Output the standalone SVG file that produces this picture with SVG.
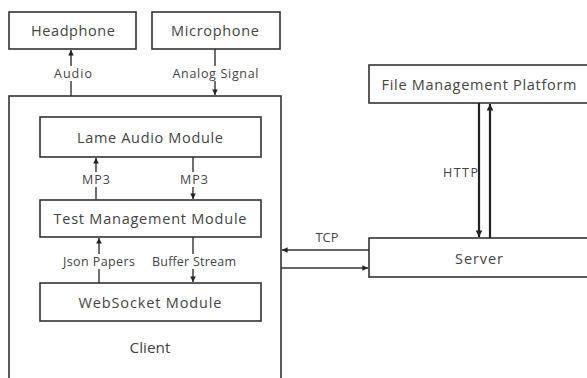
<svg xmlns="http://www.w3.org/2000/svg" width="587" height="378" viewBox="0 0 587 378">
<style>
.box{fill:#fff;stroke:#333;stroke-width:1.6}
.t{font-family:"Open Sans",sans-serif;font-size:14.5px;fill:#444;text-anchor:middle;dominant-baseline:central}
.s{font-family:"Open Sans",sans-serif;font-size:12.5px;fill:#444;text-anchor:middle;dominant-baseline:central}
.c{stroke:#333;stroke-width:1.4;fill:none}
.cb{stroke:#222;stroke-width:2.2;fill:none}
</style>
<defs>
<marker id="a" viewBox="0 0 10 10" refX="10" refY="5" markerWidth="4" markerHeight="5" markerUnits="strokeWidth" orient="auto"><path d="M0,0L10,5L0,10z" fill="#222"/></marker>
<marker id="b" viewBox="0 0 10 10" refX="10" refY="5" markerWidth="3" markerHeight="3.5" markerUnits="strokeWidth" orient="auto"><path d="M0,0L10,5L0,10z" fill="#222"/></marker>
</defs>
<rect width="587" height="378" fill="#fff"/>
<g id="client"><rect class="box" x="9" y="96" width="272" height="300"/><text class="t" x="150" y="347" textLength="41" lengthAdjust="spacingAndGlyphs">Client</text></g>
<g id="headphone"><rect class="box" x="9" y="12" width="127" height="37"/><text class="t" x="73" y="30" textLength="84">Headphone</text></g>
<g id="microphone"><rect class="box" x="152" y="12" width="128" height="37"/><text class="t" x="215" y="30" textLength="88">Microphone</text></g>
<g id="lame"><rect class="box" x="40" y="117" width="221" height="40"/><text class="t" x="150" y="137" textLength="146">Lame Audio Module</text></g>
<g id="test"><rect class="box" x="40" y="200" width="221" height="37"/><text class="t" x="150" y="218" textLength="193">Test Management Module</text></g>
<g id="websocket"><rect class="box" x="40" y="283" width="221" height="38"/><text class="t" x="150" y="302" textLength="143">WebSocket Module</text></g>
<g id="fmp"><rect class="box" x="369" y="65" width="230" height="38"/><text class="t" x="479" y="84" textLength="195">File Management Platform</text></g>
<g id="server"><rect class="box" x="369" y="238" width="230" height="39"/><text class="t" x="479" y="258" textLength="48">Server</text></g>
<g id="connectors">
<line class="c" x1="71" y1="96" x2="71" y2="50" marker-end="url(#a)"/>
<line class="c" x1="215" y1="49" x2="215" y2="95" marker-end="url(#a)"/>
<line class="c" x1="96" y1="200" x2="96" y2="158" marker-end="url(#a)"/>
<line class="c" x1="193" y1="157" x2="193" y2="199" marker-end="url(#a)"/>
<line class="c" x1="99" y1="283" x2="99" y2="238" marker-end="url(#a)"/>
<line class="c" x1="193" y1="237" x2="193" y2="282" marker-end="url(#a)"/>
<line class="cb" x1="479" y1="103" x2="479" y2="237" marker-end="url(#b)"/>
<line class="cb" x1="490" y1="238" x2="490" y2="104" marker-end="url(#b)"/>
<line class="c" x1="369" y1="250" x2="282" y2="250" marker-end="url(#a)"/>
<line class="c" x1="281" y1="268" x2="368" y2="268" marker-end="url(#a)"/>
</g>
<g id="labels">
<rect x="52" y="66" width="42" height="15" fill="#fff"/>
<text class="s" x="73" y="73" textLength="38">Audio</text>
<rect x="171" y="66" width="90" height="15" fill="#fff"/>
<text class="s" x="215.5" y="73" textLength="86">Analog Signal</text>
<rect x="80" y="172" width="32" height="15" fill="#fff"/>
<text class="s" x="96" y="179" textLength="28">MP3</text>
<rect x="178" y="172" width="32" height="15" fill="#fff"/>
<text class="s" x="194" y="179" textLength="28">MP3</text>
<rect x="62" y="254" width="76" height="15" fill="#fff"/>
<text class="s" x="99" y="261" textLength="72">Json Papers</text>
<rect x="151" y="254" width="88" height="15" fill="#fff"/>
<text class="s" x="194" y="261" textLength="84">Buffer Stream</text>
<text class="s" x="327" y="237" textLength="23" lengthAdjust="spacingAndGlyphs">TCP</text>
<text class="s" x="478" y="172" style="text-anchor:end" textLength="35">HTTP</text>
</g>
</svg>
